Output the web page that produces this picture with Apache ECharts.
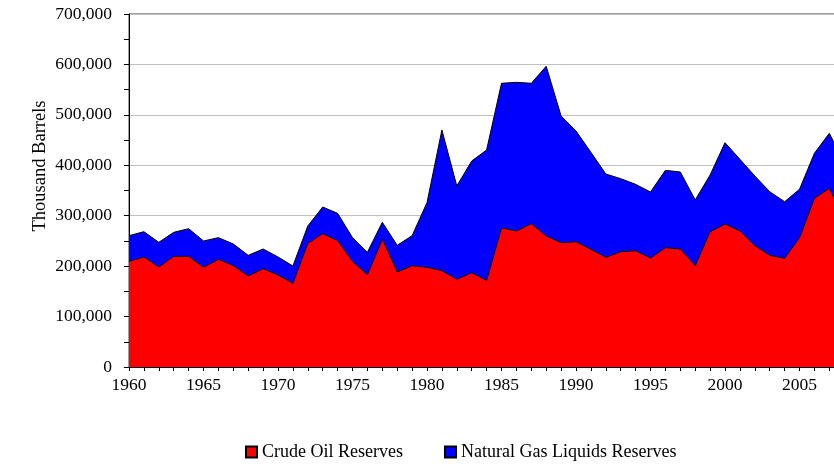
<!DOCTYPE html>
<html>
<head>
<meta charset="utf-8">
<script src="https://cdn.jsdelivr.net/npm/echarts@6/dist/echarts.min.js"></script>
<style>
html,body{margin:0;padding:0;background:#fff;}
#chart{width:834px;height:467px;}
</style>
</head>
<body>
<div id="chart"></div>
<script>
var years = ['1960','1961','1962','1963','1964','1965','1966','1967','1968','1969','1970','1971','1972','1973','1974','1975','1976','1977','1978','1979','1980','1981','1982','1983','1984','1985','1986','1987','1988','1989','1990','1991','1992','1993','1994','1995','1996','1997','1998','1999','2000','2001','2002','2003','2004','2005','2006','2007','2008'];
var crudeOil = [209600,218100,198300,219500,219500,197700,213500,200900,180500,195000,182400,165900,245200,264400,250500,208900,183100,253200,188400,200900,197700,191000,173900,187000,171900,275600,269700,284200,259800,246500,248500,233400,217500,228600,230600,216100,236600,234000,200900,268300,283600,269700,240500,221500,215500,256400,334500,354300,292000];
var ngl = [50800,50200,48900,47500,54800,52200,43000,43000,40900,39000,35700,34400,34400,52900,54200,47600,44300,33700,52900,59500,128200,279000,185000,221500,258400,287000,294800,278400,336500,251200,219500,192300,165200,144900,131600,130900,153400,152700,130300,112400,161200,142100,138300,126100,112300,96000,89300,109100,113000];
var seriesNames = ['Crude Oil Reserves','Natural Gas Liquids Reserves'];
var yTitle = 'Thousand Barrels';

var FONT = 'Liberation Serif, Times New Roman, serif';
var chart = echarts.init(document.getElementById('chart'), null, {renderer:'canvas'});
chart.setOption({
  animation:false,
  backgroundColor:'#ffffff',
  textStyle:{fontFamily:FONT,color:'#000'},
  grid:{left:129,top:14,bottom:100,width:715.2,containLabel:false,outerBoundsMode:'none',
        show:true,borderColor:'#404040',borderWidth:1,backgroundColor:'transparent'},
  legend:{
    top:438,left:240,
    itemWidth:11,itemHeight:11,itemGap:41,
    icon:'rect',
    textStyle:{fontFamily:FONT,fontSize:18,color:'#000'},
    data:seriesNames
  },
  xAxis:{
    type:'category',data:years,boundaryGap:false,
    axisLine:{lineStyle:{color:'#000',width:1}},
    axisTick:{show:true,interval:0,length:4,lineStyle:{color:'#000'}},
    axisLabel:{interval:4,margin:9,fontFamily:FONT,fontSize:17.5,color:'#000'},
    splitLine:{show:false}
  },
  yAxis:{
    type:'value',min:0,max:700000,interval:100000,
    axisLine:{show:true,lineStyle:{color:'#000',width:1}},
    axisTick:{show:true,length:5,lineStyle:{color:'#000'}},
    minorTick:{show:true,splitNumber:2,length:5,lineStyle:{color:'#000'}},
    axisLabel:{margin:17,fontFamily:FONT,fontSize:17.5,color:'#000',
      formatter:function(v){return v.toLocaleString('en-US');}},
    splitLine:{show:true,lineStyle:{color:'#c0c0c0',width:1}}
  },
  graphic:[{
    type:'text',x:40,y:166,rotation:Math.PI/2,
    style:{text:yTitle,fontFamily:FONT,fontSize:18.5,fill:'#000',align:'center',verticalAlign:'middle'}
  }],
  series:[
    {name:seriesNames[0],type:'line',stack:'total',data:crudeOil,symbol:'none',
     itemStyle:{color:'#ff0000',borderColor:'#000',borderWidth:1},
     lineStyle:{color:'#000',width:1},
     areaStyle:{color:'#ff0000',opacity:1}},
    {name:seriesNames[1],type:'line',stack:'total',data:ngl,symbol:'none',
     itemStyle:{color:'#0000ff',borderColor:'#000',borderWidth:1},
     lineStyle:{color:'#000',width:1},
     areaStyle:{color:'#0000ff',opacity:1}}
  ]
});
</script>
</body>
</html>
